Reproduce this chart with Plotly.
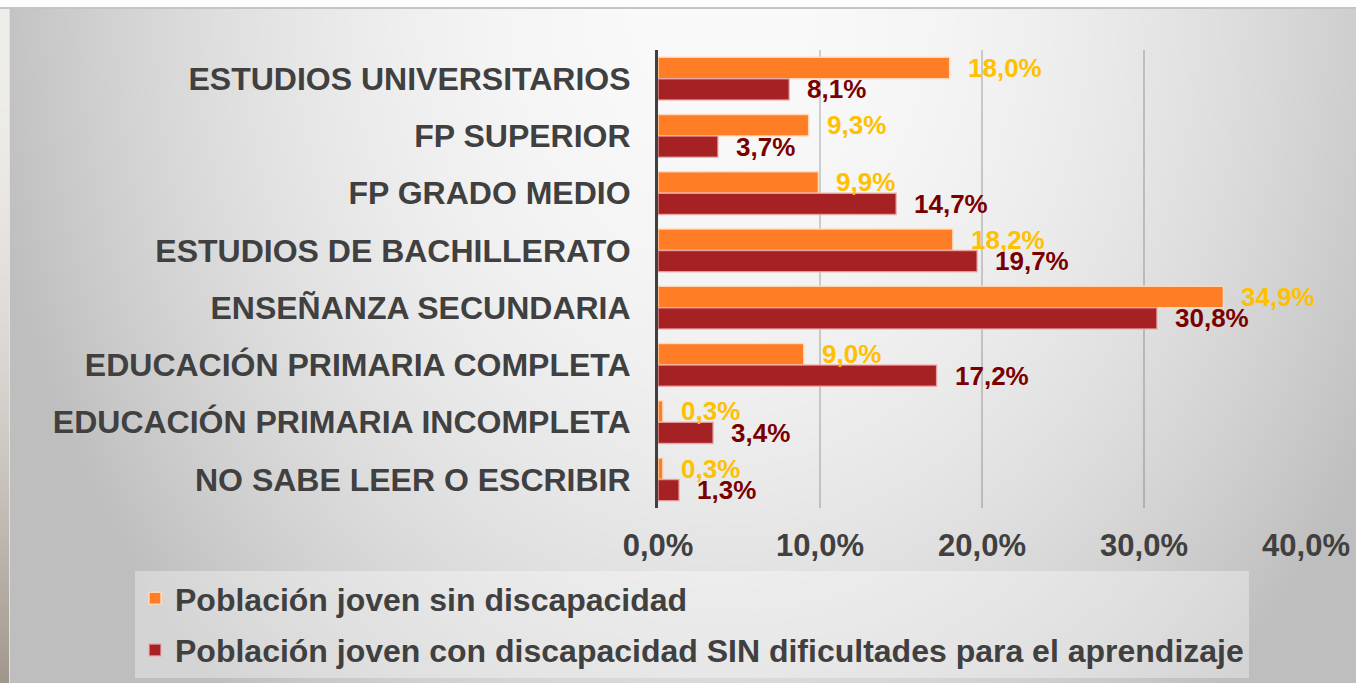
import base64
import struct
import zlib

import numpy as np
import plotly.graph_objects as go

# ---------------- data ----------------
categories = [
    "ESTUDIOS UNIVERSITARIOS",
    "FP SUPERIOR",
    "FP GRADO MEDIO",
    "ESTUDIOS DE BACHILLERATO",
    "ENSEÑANZA SECUNDARIA",
    "EDUCACIÓN PRIMARIA COMPLETA",
    "EDUCACIÓN PRIMARIA INCOMPLETA",
    "NO SABE LEER O ESCRIBIR",
]
sin_discapacidad = [18.0, 9.3, 9.9, 18.2, 34.9, 9.0, 0.3, 0.3]
con_discapacidad = [8.1, 3.7, 14.7, 19.7, 30.8, 17.2, 3.4, 1.3]
series_names = [
    "Población joven sin discapacidad",
    "Población joven con discapacidad SIN dificultades para el aprendizaje",
]
x_tickvals = [0, 10, 20, 30, 40]
x_ticktext = ["0,0%", "10,0%", "20,0%", "30,0%", "40,0%"]

# ---------------- styles ----------------
W, H = 1356, 683
L, R, T, B = 658, 50, 50, 175
FONT = "Liberation Sans"
TEXT_GRAY = "#404040"
ORANGE = "#FF7D25"
RED = "#A52124"
LBL_ORANGE = "#FFC000"
LBL_RED = "#7A0000"


def fmt(v):
    return f"{v:.1f}".replace(".", ",") + "%"


# ---------------- background image (gradient) ----------------
def make_bg_png():
    yy, xx = np.mgrid[0:H, 0:W].astype(float)
    r2 = ((xx - 720) / 720.0) ** 2 + ((yy - 0) / 900.0) ** 2
    v = 250 - 56 * r2
    v = np.clip(v, 190, 250)
    img = np.stack([v, v, v], axis=-1)
    # top white strip and thin line
    img[0:7, :, :] = 252
    img[7:9, :, :] = 196
    # left photo strip
    t = (yy[:, 0:9] / H)
    base = np.stack([240 - 80 * t ** 2, 238 - 88 * t ** 2, 235 - 95 * t ** 2], axis=-1)
    img[9:, 0:9, :] = base[9:]
    img[9:, 9:10, :] = 225
    img = np.clip(img, 0, 255).astype(np.uint8)
    diff = img.astype(np.int16).copy()
    diff[:, 1:, :] = (img[:, 1:, :].astype(np.int16) - img[:, :-1, :].astype(np.int16)) % 256
    diff = diff.astype(np.uint8)
    raw = b"".join(b"\x01" + diff[i].tobytes() for i in range(H))

    def chunk(tag, data):
        c = struct.pack(">I", len(data)) + tag + data
        return c + struct.pack(">I", zlib.crc32(tag + data) & 0xFFFFFFFF)

    png = b"\x89PNG\r\n\x1a\n"
    png += chunk(b"IHDR", struct.pack(">IIBBBBB", W, H, 8, 2, 0, 0, 0))
    png += chunk(b"IDAT", zlib.compress(raw, 9))
    png += chunk(b"IEND", b"")
    return "data:image/png;base64," + base64.b64encode(png).decode()


pw = W - L - R
ph = H - T - B

fig = go.Figure()
fig.add_trace(go.Bar(
    y=categories, x=sin_discapacidad, orientation="h", name=series_names[0],
    marker=dict(color=ORANGE, line=dict(color="rgba(255,220,190,0.9)", width=1.5)),
    legendgroup="a", hoverinfo="skip",
))
fig.add_trace(go.Bar(
    y=categories, x=con_discapacidad, orientation="h", name=series_names[1],
    marker=dict(color=RED, line=dict(color="rgba(240,170,170,0.8)", width=1.5)),
    legendgroup="b", hoverinfo="skip",
))

bargap = 0.25
bar_px = (1 - bargap) / 2 * ph / len(categories)
for vals, col, sign in [(sin_discapacidad, LBL_ORANGE, 1), (con_discapacidad, LBL_RED, -1)]:
    for c, v in zip(categories, vals):
        fig.add_annotation(
            x=v, y=c, text=fmt(v), showarrow=False, xanchor="left", yanchor="middle",
            xshift=16, yshift=sign * bar_px / 2,
            font=dict(family=FONT, size=26, color=col, weight="bold"),
        )

fig.update_layout(
    width=W, height=H,
    margin=dict(l=L, r=R, t=T, b=B, pad=0, autoexpand=False),
    paper_bgcolor="#dcdcdc",
    plot_bgcolor="rgba(0,0,0,0)",
    barmode="group", bargap=bargap, bargroupgap=0,
    font=dict(family=FONT, color=TEXT_GRAY),
    showlegend=True,
    legend=dict(
        x=(135 - L) / pw, y=-(571 - (H - B)) / ph, xanchor="left", yanchor="top",
        bgcolor="rgba(255,255,255,0.35)", borderwidth=0,
        font=dict(family=FONT, size=32, color=TEXT_GRAY, weight="bold"),
        tracegroupgap=7, traceorder="grouped", itemclick=False,
    ),
    images=[dict(
        source=make_bg_png(), xref="paper", yref="paper",
        x=-L / pw, y=1 + T / ph, sizex=W / pw, sizey=H / ph,
        xanchor="left", yanchor="top", sizing="stretch", layer="below",
    )],
)
fig.update_xaxes(
    range=[0, 40], tickvals=x_tickvals, ticktext=x_ticktext,
    showgrid=True, gridcolor="rgba(0,0,0,0.17)", gridwidth=1.5,
    zeroline=False, showline=False, ticks="",
    ticklabelstandoff=16, automargin=False,
    tickfont=dict(family=FONT, size=31, color=TEXT_GRAY, weight="bold"),
    fixedrange=True,
)
fig.update_yaxes(
    autorange="reversed", showgrid=False, zeroline=False,
    showline=True, linecolor="#404040", linewidth=3, ticks="",
    ticklabelstandoff=18, automargin=False,
    tickfont=dict(family=FONT, size=32, color=TEXT_GRAY, weight="bold"),
    fixedrange=True,
)

fig.write_html(
    "out.html",
    config={"displayModeBar": False},
    post_script="document.body.style.margin='0';document.body.style.overflow='hidden';",
)
